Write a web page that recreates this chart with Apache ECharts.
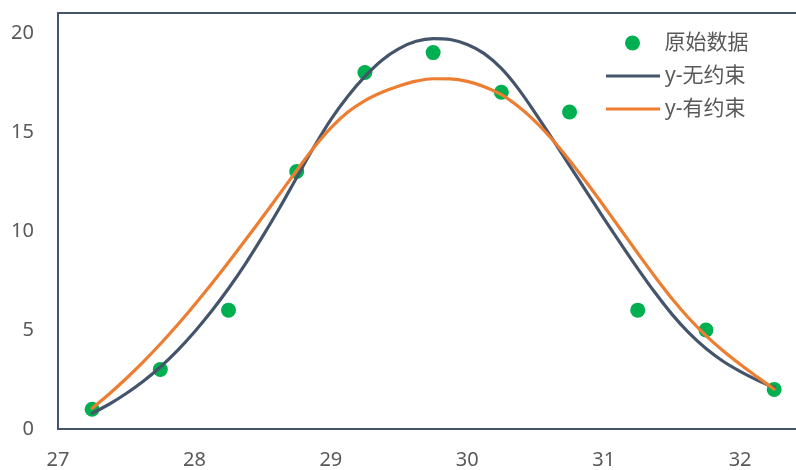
<!DOCTYPE html>
<html>
<head>
<meta charset="utf-8">
<script src="https://cdn.jsdelivr.net/npm/echarts@6/dist/echarts.min.js"></script>
<style>
  html, body { margin: 0; padding: 0; background: #fff; }
  #chart { width: 796px; height: 470px; }
</style>
</head>
<body>
<div id="chart"></div>
<script>
// Measured samples
const sampleX = [27.25, 27.75, 28.25, 28.75, 29.25, 29.75, 30.25, 30.75, 31.25, 31.75, 32.25];
const sampleY = [1, 3, 6, 13, 18, 19, 17, 16, 6, 5, 2];

// Fitted curves, tabulated at a 0.125 step
const curveX = [27.25, 27.375, 27.5, 27.625, 27.75, 27.875, 28.0, 28.125, 28.25, 28.375,
                28.5, 28.625, 28.75, 28.875, 29.0, 29.125, 29.25, 29.375, 29.5, 29.625,
                29.75, 29.875, 30.0, 30.125, 30.25, 30.375, 30.5, 30.625, 30.75, 30.875,
                31.0, 31.125, 31.25, 31.375, 31.5, 31.625, 31.75, 31.875, 32.0, 32.125, 32.25];
const freeFit = [0.8, 1.25, 1.79, 2.41, 3.13, 3.96, 4.9, 5.94, 7.09, 8.35,
                 9.72, 11.17, 12.7, 14.22, 15.62, 16.8, 17.8, 18.62, 19.2, 19.57,
                 19.71, 19.66, 19.41, 18.95, 18.2, 17.17, 15.93, 14.63, 13.3, 11.97,
                 10.65, 9.36, 8.1, 6.9, 5.8, 4.85, 4.06, 3.42, 2.91, 2.47, 2.08];
const boundFit = [1.05, 1.77, 2.55, 3.39, 4.29, 5.25, 6.26, 7.32, 8.42, 9.55,
                  10.7, 11.87, 13.05, 14.2, 15.2, 16.0, 16.58, 17.0, 17.32, 17.56,
                  17.68, 17.67, 17.55, 17.28, 16.88, 16.28, 15.52, 14.6, 13.56, 12.44,
                  11.27, 10.07, 8.87, 7.7, 6.59, 5.59, 4.71, 3.95, 3.27, 2.63, 2.01];

const seriesNames = ['原始数据', 'y-无约束', 'y-有约束'];

const zip = (xs, ys) => xs.map((x, i) => [x, ys[i]]);

const FONT = '"Noto Sans", "Noto Sans CJK SC", sans-serif';
const AXIS_COLOR = '#44546A';
const TEXT_COLOR = '#595959';
const legendText = { fontFamily: FONT, fontSize: 21, lineHeight: 24, color: TEXT_COLOR };

const chart = echarts.init(document.getElementById('chart'));
chart.setOption({
  animation: false,
  backgroundColor: '#ffffff',
  grid: { left: 58, top: 13, right: 0, bottom: 40, containLabel: false },
  legend: [
    {
      left: 620, top: 26, orient: 'vertical',
      itemWidth: 54, itemHeight: 15,
      textStyle: legendText,
      data: [{ name: seriesNames[0], icon: 'circle' }]
    },
    {
      left: 601, top: 59, orient: 'vertical',
      itemWidth: 54, itemHeight: 3, itemGap: 9,
      textStyle: legendText,
      data: [
        { name: seriesNames[1], icon: 'rect' },
        { name: seriesNames[2], icon: 'rect' }
      ]
    }
  ],
  xAxis: [
    {
      type: 'value', min: 27, max: 32.41, interval: 1,
      axisLine: { show: true, onZero: false, lineStyle: { color: AXIS_COLOR, width: 2 } },
      axisTick: { show: false },
      splitLine: { show: false },
      axisLabel: { showMaxLabel: false, margin: 21, fontFamily: FONT, fontSize: 20, color: TEXT_COLOR }
    },
    {
      // frame line along the top of the plot
      type: 'value', position: 'top', min: 27, max: 32.41,
      axisLine: { show: true, onZero: false, lineStyle: { color: AXIS_COLOR, width: 2 } },
      axisTick: { show: false },
      axisLabel: { show: false },
      splitLine: { show: false }
    }
  ],
  yAxis: {
    type: 'value', min: 0, max: 21, interval: 5,
    axisLine: { show: true, lineStyle: { color: AXIS_COLOR, width: 2 } },
    axisTick: { show: false },
    splitLine: { show: false },
    axisLabel: { showMaxLabel: false, margin: 24, fontFamily: FONT, fontSize: 20, color: TEXT_COLOR }
  },
  series: [
    {
      name: seriesNames[0], type: 'scatter', symbol: 'circle', symbolSize: 15,
      itemStyle: { color: '#00B050', opacity: 1 }, z: 1,
      data: zip(sampleX, sampleY)
    },
    {
      name: seriesNames[1], type: 'line', smooth: 0.35, symbol: 'none', z: 3,
      lineStyle: { color: '#44546A', width: 3.2, cap: 'round' },
      itemStyle: { color: '#44546A' },
      data: zip(curveX, freeFit)
    },
    {
      name: seriesNames[2], type: 'line', smooth: 0.35, symbol: 'none', z: 4,
      lineStyle: { color: '#ED7D31', width: 3.2, cap: 'round' },
      itemStyle: { color: '#ED7D31' },
      data: zip(curveX, boundFit)
    }
  ]
});
</script>
</body>
</html>
